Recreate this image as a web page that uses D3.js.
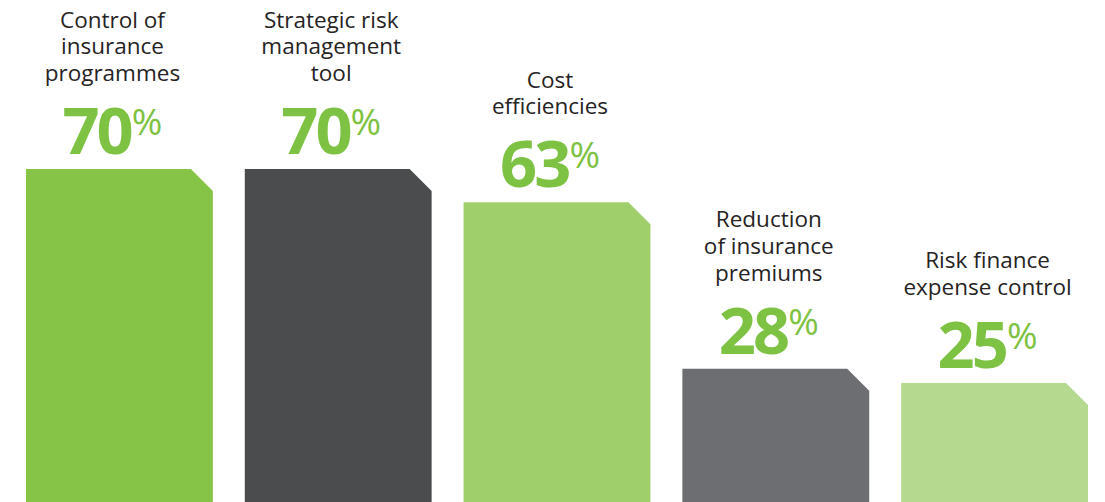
<!DOCTYPE html>
<html>
<head>
<meta charset="utf-8">
<script src="https://cdn.jsdelivr.net/npm/d3@7"></script>
<style>
  html, body { margin: 0; padding: 0; background: #fff; }
  svg { display: block; }
</style>
</head>
<body>
<div id="chart"></div>
<script>
// data
const categories = [
    ['Control of', 'insurance', 'programmes'],
    ['Strategic risk', 'management', 'tool'],
    ['Cost', 'efficiencies'],
    ['Reduction', 'of insurance', 'premiums'],
    ['Risk finance', 'expense control']
];
const values = [70, 70, 63, 28, 25];
const barColors = ['#85c446', '#4b4c4e', '#9ecf6b', '#6d6e71', '#b6d990'];

const width = 1105;
const height = 502;
const cut = 22;          // size of the clipped top-right corner
const numGap = 15;       // bar top -> number baseline
const labelGap = 73;     // number baseline -> last label baseline
const lineH = 26.7;

let x = d3.scaleBand()
    .domain(d3.range(values.length))
    .range([26, 1088])
    .paddingInner(0.146)
    .paddingOuter(0);

let y = d3.scaleLinear()
    .domain([0, 70])
    .range([height, 169]);

const svg = d3.select('#chart')
    .append('svg')
    .attr('width', width)
    .attr('height', height);

// bars with the cut corner
svg.selectAll('path.bar')
    .data(values)
    .enter()
    .append('path')
    .attr('class', 'bar')
    .attr('fill', (d, i) => barColors[i])
    .attr('d', (d, i) => {
        let x0 = x(i), x1 = x(i) + x.bandwidth();
        let top = y(d), bottom = height + 10;
        return `M${x0},${bottom}L${x0},${top}L${x1 - cut},${top}L${x1},${top + cut}L${x1},${bottom}Z`;
    });

// labels and numbers
values.forEach((v, i) => {
    let cx = x(i) + x.bandwidth() / 2 - 7;
    let numBase = y(v) - numGap;

    let g = svg.append('g');
    let num = g.append('text')
        .attr('y', numBase)
        .attr('fill', '#7dc242')
        .attr('font-family', 'Open Sans, sans-serif')
        .attr('font-weight', 700)
        .attr('font-size', 65)
        .attr('letter-spacing', -3)
        .text(v);
    let pct = g.append('text')
        .attr('y', numBase - 46 + 27)
        .attr('fill', '#7dc242')
        .attr('font-family', 'Open Sans, sans-serif')
        .attr('font-weight', 400)
        .attr('font-size', 37)
        .text('%');
    let nw = num.node().getComputedTextLength();
    let pw = pct.node().getComputedTextLength();
    let total = nw + 1 + pw;
    num.attr('x', cx - total / 2);
    pct.attr('x', cx - total / 2 + nw + 1);

    let lines = categories[i];
    svg.append('text')
        .attr('text-anchor', 'middle')
        .attr('fill', '#262324')
        .attr('font-family', 'Open Sans, sans-serif')
        .attr('font-size', 22.5)
        .selectAll('tspan')
        .data(lines)
        .enter()
        .append('tspan')
        .attr('x', cx)
        .attr('y', (d, j) => numBase - labelGap - (lines.length - 1 - j) * lineH)
        .text(d => d);
});
</script>
</body>
</html>
